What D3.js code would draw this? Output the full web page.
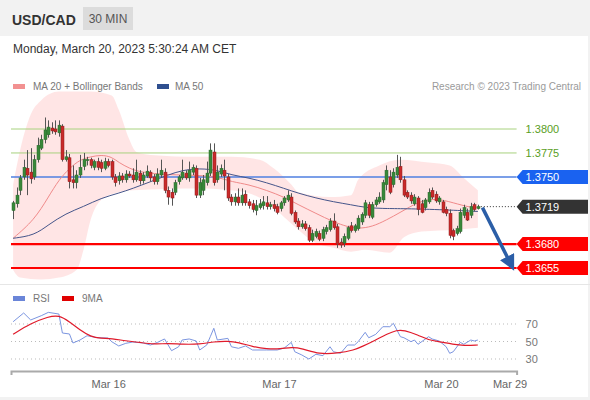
<!DOCTYPE html>
<html><head><meta charset="utf-8">
<script src="https://cdn.jsdelivr.net/npm/d3@7"></script>
<style>body{margin:0;background:#fff;} svg{display:block;font-family:Arial,"Liberation Sans",sans-serif;}</style>
</head><body><svg id="c" width="590" height="400"></svg>
<script>
// ---------- DATA ----------
const candleOpen=[1.3715,1.3722,1.3736,1.3750,1.3759,1.3755,1.3750,1.3768,1.3780,1.3789,
1.3794,1.3801,1.3800,1.3796,1.3803,1.3768,1.3770,1.3747,1.3744,1.3752,
1.3761,1.3767,1.3768,1.3760,1.3766,1.3765,1.3759,1.3766,1.3766,1.3750,
1.3746,1.3751,1.3747,1.3753,1.3752,1.3747,1.3754,1.3746,1.3751,1.3755,
1.3750,1.3745,1.3752,1.3755,1.3736,1.3734,1.3734,1.3745,1.3749,1.3754,
1.3749,1.3755,1.3759,1.3731,1.3736,1.3744,1.3754,1.3776,1.3747,1.3753,
1.3757,1.3750,1.3729,1.3724,1.3729,1.3723,1.3732,1.3724,1.3722,1.3715,
1.3718,1.3720,1.3723,1.3719,1.3721,1.3719,1.3717,1.3723,1.3726,1.3729,
1.3713,1.3704,1.3698,1.3701,1.3697,1.3684,1.3688,1.3691,1.3686,1.3693,
1.3695,1.3704,1.3698,1.3682,1.3681,1.3686,1.3699,1.3694,1.3696,1.3703,
1.3710,1.3721,1.3708,1.3721,1.3724,1.3726,1.3742,1.3750,1.3742,1.3752,
1.3761,1.3747,1.3734,1.3731,1.3722,1.3728,1.3722,1.3718,1.3724,1.3736,
1.3732,1.3724,1.3724,1.3716,1.3712,1.3694,1.3691,1.3693,1.3710,1.3713,
1.3710,1.3721,1.3717];
const candleHigh=[1.3725,1.3739,1.3752,1.3768,1.3778,1.3780,1.3773,1.3791,1.3794,1.3812,
1.3809,1.3807,1.3809,1.3809,1.3805,1.3778,1.3774,1.3762,1.3757,1.3773,
1.3775,1.3771,1.3770,1.3768,1.3770,1.3768,1.3770,1.3769,1.3768,1.3753,
1.3755,1.3754,1.3757,1.3756,1.3759,1.3768,1.3757,1.3755,1.3762,1.3757,
1.3753,1.3759,1.3768,1.3759,1.3740,1.3738,1.3747,1.3752,1.3768,1.3757,
1.3766,1.3763,1.3762,1.3749,1.3752,1.3766,1.3785,1.3785,1.3762,1.3763,
1.3768,1.3753,1.3732,1.3733,1.3738,1.3738,1.3736,1.3727,1.3726,1.3726,
1.3727,1.3730,1.3730,1.3724,1.3726,1.3722,1.3725,1.3730,1.3736,1.3733,
1.3715,1.3707,1.3705,1.3704,1.3700,1.3695,1.3696,1.3694,1.3698,1.3700,
1.3707,1.3712,1.3701,1.3686,1.3691,1.3699,1.3703,1.3701,1.3710,1.3713,
1.3726,1.3724,1.3724,1.3729,1.3734,1.3747,1.3762,1.3757,1.3759,1.3773,
1.3771,1.3751,1.3736,1.3734,1.3732,1.3730,1.3726,1.3728,1.3738,1.3739,
1.3735,1.3730,1.3726,1.3719,1.3716,1.3696,1.3699,1.3717,1.3721,1.3717,
1.3723,1.3723,1.3721];
const candleLow=[1.3706,1.3718,1.3731,1.3747,1.3731,1.3743,1.3747,1.3765,1.3778,1.3785,
1.3791,1.3795,1.3794,1.3792,1.3766,1.3766,1.3738,1.3738,1.3738,1.3749,
1.3757,1.3762,1.3759,1.3757,1.3757,1.3755,1.3757,1.3760,1.3747,1.3740,
1.3742,1.3744,1.3744,1.3749,1.3744,1.3745,1.3742,1.3743,1.3749,1.3745,
1.3742,1.3742,1.3749,1.3733,1.3721,1.3720,1.3731,1.3742,1.3747,1.3747,
1.3745,1.3752,1.3728,1.3728,1.3731,1.3741,1.3751,1.3741,1.3744,1.3750,
1.3736,1.3725,1.3720,1.3720,1.3720,1.3720,1.3720,1.3717,1.3713,1.3710,
1.3716,1.3716,1.3716,1.3716,1.3714,1.3711,1.3714,1.3720,1.3724,1.3710,
1.3701,1.3695,1.3696,1.3694,1.3682,1.3682,1.3686,1.3683,1.3683,1.3690,
1.3693,1.3695,1.3676,1.3676,1.3677,1.3684,1.3692,1.3692,1.3694,1.3700,
1.3707,1.3707,1.3706,1.3719,1.3722,1.3723,1.3736,1.3732,1.3739,1.3749,
1.3744,1.3729,1.3727,1.3722,1.3720,1.3710,1.3712,1.3715,1.3722,1.3727,
1.3723,1.3721,1.3712,1.3709,1.3686,1.3684,1.3689,1.3691,1.3707,1.3704,
1.3707,1.3714,1.3716];
const candleClose=[1.3723,1.3731,1.3749,1.3760,1.3752,1.3748,1.3768,1.3783,1.3789,1.3799,
1.3802,1.3798,1.3797,1.3804,1.3768,1.3771,1.3745,1.3744,1.3752,1.3760,
1.3768,1.3768,1.3762,1.3766,1.3760,1.3759,1.3766,1.3762,1.3750,1.3744,
1.3751,1.3747,1.3753,1.3751,1.3747,1.3755,1.3746,1.3752,1.3756,1.3749,
1.3745,1.3753,1.3757,1.3736,1.3729,1.3728,1.3744,1.3750,1.3755,1.3749,
1.3757,1.3760,1.3731,1.3744,1.3747,1.3754,1.3778,1.3744,1.3755,1.3759,
1.3751,1.3728,1.3724,1.3729,1.3723,1.3731,1.3723,1.3720,1.3716,1.3720,
1.3722,1.3724,1.3719,1.3721,1.3717,1.3713,1.3723,1.3728,1.3731,1.3712,
1.3703,1.3698,1.3701,1.3696,1.3684,1.3691,1.3693,1.3685,1.3695,1.3697,
1.3704,1.3697,1.3680,1.3679,1.3688,1.3697,1.3694,1.3699,1.3707,1.3711,
1.3723,1.3710,1.3721,1.3726,1.3729,1.3744,1.3757,1.3734,1.3755,1.3760,
1.3747,1.3731,1.3729,1.3725,1.3729,1.3716,1.3713,1.3726,1.3734,1.3729,
1.3725,1.3728,1.3713,1.3712,1.3689,1.3688,1.3696,1.3713,1.3718,1.3705,
1.3719,1.3716,1.3719];

// indicator samples (candle index, value)
const ma20Idx=[0,6,10,13,16,19,22,25,28,30,33,36,44,53,59,62,67,72,77,81,86,91,95,98,102,106,110,115,120,125,130,132];
const ma20Val=[1.3686,1.3705,1.3729,1.3747,1.3759,1.3768,1.3771,1.3773,1.3771,1.3765,1.3759,1.3755,1.3752,1.3752,1.3749,1.3745,1.3742,1.3736,1.3729,1.3721,1.3712,1.3703,1.3698,1.3696,1.3698,1.3705,1.3713,1.3724,1.3728,1.3723,1.3718,1.3718];
const ma50Idx=[0,6,10,15,20,25,30,34,39,44,48,53,58,62,67,72,77,81,86,91,96,100,105,110,121,132];
const ma50Val=[1.3686,1.3689,1.3700,1.3712,1.3719,1.3728,1.3733,1.3738,1.3745,1.3752,1.3757,1.3759,1.3757,1.3752,1.3749,1.3744,1.3738,1.3733,1.3728,1.3724,1.3721,1.3718,1.3717,1.3717,1.3716,1.3714];
const bbUpIdx=[0,2,5,8,13,22,28,30,33,35,39,53,62,70,74,79,81,90,96,98,104,110,118,124,128,132];
const bbUpVal=[1.3742,1.3778,1.3815,1.3830,1.3839,1.3839,1.3835,1.3820,1.3789,1.3776,1.3773,1.3771,1.3771,1.3768,1.3759,1.3742,1.3734,1.3729,1.3731,1.3747,1.3762,1.3768,1.3765,1.3762,1.3749,1.3736];
const bbLoIdx=[0,2,8,13,18,20,22,25,30,34,53,62,67,72,77,81,86,91,96,100,107,111,116,126,132];
const bbLoVal=[1.3653,1.3645,1.3643,1.3645,1.3653,1.3674,1.3705,1.3726,1.3734,1.3736,1.3738,1.3736,1.3733,1.3724,1.3708,1.3695,1.3681,1.3676,1.3672,1.3674,1.3671,1.3687,1.3693,1.3695,1.3697];

const rsiIdx=[0,3,5,8,10,13,14,16,17,19,21,24,27,28,30,32,34,37,39,41,43,45,47,48,50,52,53,55,56,57,58,61,62,64,66,68,72,75,77,79,80,82,84,86,88,90,91,93,95,97,98,100,101,103,105,107,108,110,111,113,114,115,118,119,121,123,124,125,127,128,130,131,132];
const rsiVal=[72.6,82.6,74.6,79.5,83.3,81.4,59.7,58.6,48.3,51.7,56.6,54.3,54,49.8,44.9,47.9,49.4,48.3,46,49,52.9,39.5,44,51.7,52.9,50.6,40.3,46,55.5,65.1,51.7,53.6,44,42.2,44.9,40.3,40.3,40.3,42.5,49,38.3,34.6,30,35.4,33.8,44,38.3,36.5,46,46,49.8,60.5,54.3,58.2,66.9,66.9,70.8,55.5,54.3,49.8,51.7,46.8,55.5,52.9,50.6,44,36.5,38.3,49,46.8,51.7,50.6,51.7];
const rsiMaIdx=[0,5,10,13,16,19,22,25,28,32,36,40,44,48,53,57,61,64,68,72,76,79,82,87,92,97,99,103,106,109,111,115,118,121,125,128,132];
const rsiMaVal=[58.2,70.8,78.4,80.3,72.6,63.1,55.5,53.6,53.6,50.6,49,46.8,47.9,46.8,46.8,49.8,50.6,49,44,41.4,41.4,43.5,42.2,35.4,36.5,40.3,44,51.7,58.2,63.1,63.1,57.4,51.7,49.8,46.8,45.2,46];

const levelValues=[1.3800,1.3775,1.3750,1.3680,1.3655];
const levelKinds=["res","res","pivot","sup","sup"];
const lastPrice=1.3719;
const targetPrice=1.3655;
const rsiTicks=[70,50,30];
const xTickIdx=[27,75.5,121.5,141];
const xTickLabels=["Mar 16","Mar 17","Mar 20","Mar 29"];

// ---------- DRAW ----------
const svg=d3.select("#c");
const F='Arial,"Liberation Sans",sans-serif';
svg.append("rect").attr("x",0).attr("y",0).attr("width",590).attr("height",400).attr("fill","#f2f2f2");
svg.append("rect").attr("x",0).attr("y",36).attr("width",588).attr("height",361).attr("fill","#fff");
svg.append("line").attr("x1",0).attr("x2",590).attr("y1",284.5).attr("y2",284.5).attr("stroke","#e6e6e6");

// header
svg.append("text").attr("x",12).attr("y",25).attr("font-size",14).attr("font-weight","bold").attr("fill","#333").text("USD/CAD");
svg.append("rect").attr("x",83).attr("y",7).attr("width",50).attr("height",23).attr("fill","#dcdcdc");
svg.append("text").attr("x",108).attr("y",23).attr("text-anchor","middle").attr("font-size",12).attr("fill","#555").text("30 MIN");
svg.append("text").attr("x",13).attr("y",53).attr("font-size",12).attr("fill","#333").text("Monday, March 20, 2023 5:30:24 AM CET");

// legends
svg.append("rect").attr("x",13).attr("y",84).attr("width",12).attr("height",5).attr("fill","#f29191");
svg.append("text").attr("x",33).attr("y",90).attr("font-size",10).attr("fill","#777").text("MA 20 + Bollinger Bands");
svg.append("rect").attr("x",157).attr("y",84).attr("width",12).attr("height",5).attr("fill","#2f4f8f");
svg.append("text").attr("x",175).attr("y",90).attr("font-size",10).attr("fill","#777").text("MA 50");
svg.append("text").attr("x",581).attr("y",90).attr("text-anchor","end").attr("font-size",10).attr("fill","#9a9a9a").text("Research \u00A9 2023 Trading Central");

svg.append("rect").attr("x",13).attr("y",296).attr("width",12).attr("height",5).attr("fill","#6a85d8");
svg.append("text").attr("x",33).attr("y",302).attr("font-size",10).attr("fill","#777").text("RSI");
svg.append("rect").attr("x",62).attr("y",296).attr("width",12).attr("height",5).attr("fill","#e00000");
svg.append("text").attr("x",82).attr("y",302).attr("font-size",10).attr("fill","#777").text("9MA");

// scales
const x=d3.scaleLinear().domain([-0.6,143]).range([11,516.6]);
const y=d3.scaleLinear().domain([1.3655,1.3800]).range([268,129]);
const yr=d3.scaleLinear().domain([30,70]).range([359,324]);
const zip=(a,b)=>a.map((v,i)=>[v,b[i]]);

// Bollinger band area
const bbUp=zip(bbUpIdx,bbUpVal), bbLo=zip(bbLoIdx,bbLoVal);
const lineSmooth=d3.line().x(d=>x(d[0])).y(d=>y(d[1])).curve(d3.curveMonotoneX);
const upPath=lineSmooth(bbUp);
const loPath=lineSmooth(bbLo.slice().reverse());
svg.append("path").attr("d",upPath+"L"+loPath.slice(1)+"Z").attr("fill","#ffe0e0").attr("fill-opacity",0.85);

// level lines
const lvColor={res:"#a8d27e",pivot:"#4f7fe0",sup:"#ff0000"};
const lvWidth={res:1,pivot:1.5,sup:2.2};
const x0=x.range()[0], x1=x.range()[1];
levelValues.forEach((v,i)=>{
  const k=levelKinds[i];
  svg.append("line").attr("x1",x0).attr("x2",x1).attr("y1",y(v)).attr("y2",y(v))
    .attr("stroke",lvColor[k]).attr("stroke-width",lvWidth[k]);
});

// MA lines
svg.append("path").attr("d",d3.line().x(d=>x(d[0])).y(d=>y(d[1])).curve(d3.curveBasis)(zip(ma20Idx,ma20Val)))
  .attr("fill","none").attr("stroke","#f08a8a").attr("stroke-width",1);
svg.append("path").attr("d",d3.line().x(d=>x(d[0])).y(d=>y(d[1])).curve(d3.curveBasis)(zip(ma50Idx,ma50Val)))
  .attr("fill","none").attr("stroke","#45558a").attr("stroke-width",1);

// candles
const candles=candleOpen.map((o,i)=>({i,o,h:candleHigh[i],l:candleLow[i],c:candleClose[i]}));
const cg=svg.append("g");
cg.selectAll("line.w").data(candles).join("line").attr("class","w")
  .attr("x1",d=>Math.round(x(d.i))+0.5).attr("x2",d=>Math.round(x(d.i))+0.5)
  .attr("y1",d=>y(d.h)).attr("y2",d=>y(d.l)).attr("stroke","#555").attr("stroke-width",1);
cg.selectAll("rect.b").data(candles).join("rect").attr("class","b")
  .attr("x",d=>Math.round(x(d.i))-1).attr("width",3)
  .attr("y",d=>y(Math.max(d.o,d.c))).attr("height",d=>Math.max(1,Math.abs(y(d.o)-y(d.c))))
  .attr("fill",d=>d.c>=d.o?"#38883a":"#c92a2a")
  .attr("stroke",d=>d.c>=d.o?"#2c6a2c":"#8f1c1c").attr("stroke-width",0.5);

// current price dotted line
const last=candles[candles.length-1];
svg.append("line").attr("x1",x(last.i)+3).attr("x2",x1).attr("y1",y(lastPrice)).attr("y2",y(lastPrice))
  .attr("stroke","#333").attr("stroke-dasharray","1,2");

// forecast arrow
svg.append("defs").append("marker").attr("id","ah").attr("viewBox","0 0 10 10").attr("refX",5).attr("refY",5)
  .attr("markerWidth",4.5).attr("markerHeight",4.5).attr("orient","auto")
  .append("path").attr("d","M0,0L10,5L0,10Z").attr("fill","#2b5ea7");
svg.append("line").attr("x1",x(last.i+1.3)).attr("y1",y(lastPrice-0.0001)).attr("x2",x(141.3)).attr("y2",y(targetPrice+0.00045))
  .attr("stroke","#2b5ea7").attr("stroke-width",3.5).attr("marker-end","url(#ah)");

// level tags
const tagFill={res:null,pivot:"#1a62f0",sup:"#ff0000"};
function tag(v,fill,txtColor){
  const cy=y(v);
  if(fill){
    svg.append("path").attr("d",`M${x1},${cy}L${x1+6},${cy-7}L588,${cy-7}L588,${cy+7}L${x1+6},${cy+7}Z`).attr("fill",fill);
  }
  svg.append("text").attr("x",x1+9).attr("y",cy+4).attr("font-size",11).attr("fill",txtColor).text(v.toFixed(4));
}
levelValues.forEach((v,i)=>{
  const k=levelKinds[i];
  if(k==="res") tag(v,null,"#5a9e1e"); else tag(v,tagFill[k],"#fff");
});
tag(lastPrice,"#333","#fff");

// RSI panel
rsiTicks.forEach(t=>{
  svg.append("line").attr("x1",x0).attr("x2",x1).attr("y1",yr(t)).attr("y2",yr(t))
    .attr("stroke","#bbb").attr("stroke-dasharray","1,3");
  svg.append("text").attr("x",x1+9).attr("y",yr(t)+4).attr("font-size",11).attr("fill","#777").text(t);
});
svg.append("path").attr("d",d3.line().x(d=>x(d[0])).y(d=>yr(d[1]))(zip(rsiIdx,rsiVal)))
  .attr("fill","none").attr("stroke","#7b95e0").attr("stroke-width",1);
svg.append("path").attr("d",d3.line().x(d=>x(d[0])).y(d=>yr(d[1])).curve(d3.curveBasis)(zip(rsiMaIdx,rsiMaVal)))
  .attr("fill","none").attr("stroke","#e01b2b").attr("stroke-width",1.2);

// x axis
const ax=svg.append("g").attr("transform","translate(0,371)")
  .call(d3.axisBottom(x).tickValues(xTickIdx).tickFormat((d,i)=>xTickLabels[i]).tickSizeInner(0).tickSizeOuter(4).tickPadding(9));
ax.select(".domain").attr("stroke","#aaa").attr("stroke-width",2);
ax.selectAll("text").attr("font-size",11).attr("fill","#666").attr("font-family",F);
</script></body></html>
